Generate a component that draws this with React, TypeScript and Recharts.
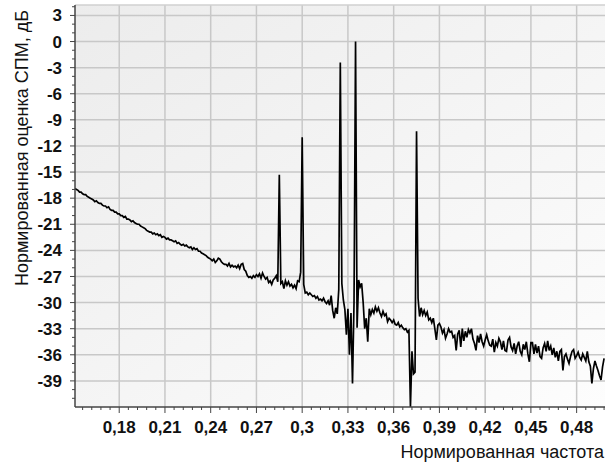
import {
    LineChart,
    Line,
    XAxis,
    YAxis,
    CartesianGrid,
    ReferenceLine,
} from "recharts";

// normalized frequency grid: starts at 0.151, step 0.001
const FREQ_START = 0.151;
const FREQ_STEP = 0.001;

// PSD estimate, dB, split by frequency range
const psd151to200 = [
    -16.9, -17.0, -17.1, -17.3, -17.3, -17.5, -17.6, -17.6, -17.8, -17.9,
    -18.0, -18.1, -18.2, -18.4, -18.3, -18.5, -18.6, -18.6, -18.8, -18.9,
    -18.9, -19.1, -19.0, -19.3, -19.4, -19.4, -19.6, -19.6, -19.8, -19.8,
    -20.0, -20.0, -20.2, -20.1, -20.4, -20.4, -20.5, -20.7, -20.6, -20.8,
    -20.9, -21.0, -21.0, -21.2, -21.3, -21.4, -21.5, -21.7, -21.8, -21.9,
];
const psd201to250 = [
    -21.9, -22.1, -22.0, -22.2, -22.1, -22.3, -22.2, -22.5, -22.4, -22.5,
    -22.7, -22.6, -22.8, -22.8, -22.9, -23.0, -22.9, -23.2, -23.1, -23.3,
    -23.4, -23.3, -23.5, -23.4, -23.6, -23.7, -23.6, -23.9, -23.7, -23.9,
    -23.8, -24.1, -24.1, -24.3, -24.4, -24.5, -24.6, -24.8, -24.9, -25.0,
    -25.2, -25.0, -25.4, -25.2, -24.9, -25.0, -25.3, -25.5, -25.6, -25.6,
];
const psd251to300 = [
    -25.8, -25.5, -25.9, -25.7, -25.9, -25.8, -26.0, -25.7, -26.1, -25.6,
    -25.5, -26.2, -26.4, -26.9, -27.1, -27.0, -27.2, -26.9, -27.1, -26.8,
    -27.0, -26.7, -27.2, -26.6, -27.0, -27.3, -27.1, -27.7, -27.5, -27.9,
    -27.4, -27.2, -26.9, -27.6, -15.3, -27.8, -27.6, -28.4, -27.5, -28.0,
    -27.6, -28.1, -27.9, -28.3, -28.0, -28.4, -27.5, -27.6, -26.5, -11.0,
];
const psd301to350 = [
    -27.9, -28.9, -28.8, -29.1, -28.9, -29.1, -29.3, -29.2, -29.5, -29.3,
    -29.7, -29.6, -29.8, -29.5, -29.9, -30.1, -29.8, -30.3, -29.2, -30.9,
    -31.8, -30.6, -31.3, -28.5, -2.4, -27.8, -29.7, -30.8, -33.7, -30.7,
    -36.0, -31.2, -39.3, -30.0, 0.0, -32.9, -27.4, -28.2, -27.8, -30.0,
    -33.0, -31.8, -34.5, -30.7, -31.4, -30.8, -31.2, -30.5, -31.0, -30.6,
];
const psd351to400 = [
    -31.2, -31.6, -31.0, -31.5, -31.3, -32.2, -31.8, -32.0, -32.3, -32.0,
    -32.5, -32.6, -32.3, -32.8, -32.6, -32.9, -33.1, -33.0, -33.4, -33.2,
    -42.0, -35.6, -38.2, -38.0, -10.3, -29.5, -31.6, -30.6, -31.4, -30.9,
    -31.5, -31.1, -32.0, -31.8, -32.3, -31.8, -33.0, -34.3, -32.6, -32.4,
    -32.8, -33.5, -33.1, -34.1, -33.6, -33.0, -33.4, -33.3, -34.0, -33.8,
];
const psd401to450 = [
    -35.5, -33.6, -33.2, -35.1, -33.0, -34.4, -33.3, -34.0, -33.1, -33.5,
    -33.0, -34.2, -34.7, -35.5, -33.8, -34.6, -33.6, -34.5, -35.0, -34.3,
    -33.7, -34.4, -34.9, -35.0, -34.2, -35.7, -34.6, -35.0, -34.1, -34.5,
    -35.4, -34.4, -35.5, -35.6, -34.3, -34.0, -35.1, -35.5, -34.7, -35.9,
    -35.0, -34.5, -35.6, -36.0, -34.8, -35.4, -34.5, -35.9, -36.8, -34.6,
];
const psd451to498 = [
    -34.6, -35.9, -34.8, -35.8, -35.0, -36.2, -36.4, -35.2, -34.7, -35.6,
    -34.4, -35.5, -35.0, -36.0, -35.2, -36.3, -35.6, -36.7, -35.6, -35.4,
    -37.8, -36.2, -35.9, -36.5, -37.0, -36.2, -35.6, -35.4, -36.4, -36.1,
    -35.7, -36.3, -36.6, -35.9, -36.3, -36.7, -35.6, -36.8, -37.3, -39.3,
    -37.6, -36.7, -37.3, -37.8, -38.4, -38.9, -37.4, -36.4,
];

const xTicks = [0.18, 0.21, 0.24, 0.27, 0.3, 0.33, 0.36, 0.39, 0.42, 0.45, 0.48];
const yTicks = [3, 0, -3, -6, -9, -12, -15, -18, -21, -24, -27, -30, -33, -36, -39];
const xDomain: [number, number] = [0.151, 0.4986];
const yDomain: [number, number] = [-42, 4.2];

const psd = [
    ...psd151to200,
    ...psd201to250,
    ...psd251to300,
    ...psd301to350,
    ...psd351to400,
    ...psd401to450,
    ...psd451to498,
];
const data = psd.map((v, i) => ({
    f: Number((FREQ_START + i * FREQ_STEP).toFixed(3)),
    v,
}));

// all tick positions incl. minor ones (5 divisions on x, 1 dB on y)
const xAllTicks: number[] = [];
for (let k = -4; k <= 55; k++) {
    const t = Number((0.18 + k * 0.006).toFixed(3));
    if (t > xDomain[0] && t < xDomain[1]) xAllTicks.push(t);
}
const yAllTicks: number[] = [];
for (let t = -41; t <= 4; t++) yAllTicks.push(t);

const isMajor = (list: number[], v: number) =>
    list.some((t) => Math.abs(t - v) < 1e-6);
const fmt = (v: number) => String(Number(v.toFixed(2))).replace(".", ",");

const FONT = "'Liberation Sans', Arial, sans-serif";
const AXIS = "#444";

const XTick = (props: any) => {
    const { x, y, payload } = props;
    const major = isMajor(xTicks, payload.value);
    return (
        <g>
            <line x1={x} y1={y} x2={x} y2={y + (major ? 6 : 3)} stroke={AXIS} />
            {major && (
                <text
                    x={x}
                    y={y + 14}
                    dy="0.71em"
                    textAnchor="middle"
                    fill="#111"
                    fontSize={17}
                    fontWeight={700}
                    fontFamily={FONT}
                >
                    {fmt(payload.value)}
                </text>
            )}
        </g>
    );
};

const YTick = (props: any) => {
    const { x, y, payload } = props;
    const major = isMajor(yTicks, payload.value);
    return (
        <g>
            <line x1={x} y1={y} x2={x - (major ? 5 : 3)} y2={y} stroke={AXIS} />
            {major && (
                <text
                    x={x - 13}
                    y={y}
                    dy="0.355em"
                    textAnchor="end"
                    fill="#111"
                    fontSize={17}
                    fontWeight={700}
                    fontFamily={FONT}
                >
                    {payload.value}
                </text>
            )}
        </g>
    );
};

export default function App() {
    return (
        <div
            style={{
                position: "relative",
                width: 607,
                height: 463,
                background: "#fff",
                fontFamily: FONT,
            }}
        >
            <style>{"body{margin:0}"}</style>
            <LineChart
                width={607}
                height={463}
                data={data}
                margin={{ top: 5, right: 2, left: 0, bottom: 0 }}
            >
                <defs>
                    <linearGradient id="plotBg" x1="0" y1="0" x2="1" y2="1">
                        <stop offset="0%" stopColor="#ececec" />
                        <stop offset="100%" stopColor="#fdfdfd" />
                    </linearGradient>
                </defs>
                <CartesianGrid
                    fill="url(#plotBg)"
                    horizontal={false}
                    vertical={false}
                />
                {xTicks.map((t) => (
                    <ReferenceLine
                        key={"gx" + t}
                        x={t}
                        stroke="#c8c8c8"
                        strokeWidth={1.5}
                    />
                ))}
                {yTicks.map((t) => (
                    <ReferenceLine
                        key={"gy" + t}
                        y={t}
                        stroke="#c8c8c8"
                        strokeWidth={1.5}
                    />
                ))}
                <ReferenceLine y={4.2} stroke="#d0d0d0" strokeWidth={1.5} />
                <XAxis
                    type="number"
                    dataKey="f"
                    domain={xDomain}
                    ticks={xAllTicks}
                    tick={<XTick />}
                    tickSize={0}
                    tickMargin={0}
                    tickLine={false}
                    axisLine={{ stroke: AXIS, strokeWidth: 1.5 }}
                    height={56}
                    interval={0}
                />
                <YAxis
                    type="number"
                    domain={yDomain}
                    ticks={yAllTicks}
                    tick={<YTick />}
                    tickSize={0}
                    tickMargin={0}
                    tickLine={false}
                    axisLine={{ stroke: AXIS, strokeWidth: 1.5 }}
                    width={75}
                    interval={0}
                />
                <Line
                    type="linear"
                    dataKey="v"
                    stroke="#000"
                    strokeWidth={1.7}
                    dot={false}
                    activeDot={false}
                    isAnimationActive={false}
                />
            </LineChart>
            <div
                style={{
                    position: "absolute",
                    left: 22,
                    top: 148,
                    transform: "translate(-50%, -50%) rotate(-90deg)",
                    whiteSpace: "nowrap",
                    fontSize: 18,
                    lineHeight: "20px",
                    color: "#111",
                }}
            >
                Нормированная оценка СПМ, дБ
            </div>
            <div
                style={{
                    position: "absolute",
                    right: 3,
                    top: 442,
                    whiteSpace: "nowrap",
                    fontSize: 18,
                    lineHeight: "20px",
                    color: "#111",
                }}
            >
                Нормированная частота
            </div>
        </div>
    );
}
